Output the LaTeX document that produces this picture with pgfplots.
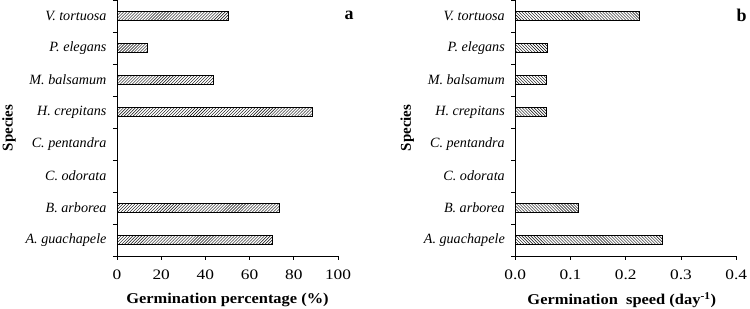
\documentclass[border=0pt]{standalone}
\usepackage{fontspec}
\setmainfont{Liberation Serif}
\newfontfamily\widefont[FakeStretch=1.2]{Liberation Serif}
\newfontfamily\labelfont[FakeStretch=1.1]{Liberation Serif}
\usepackage{pgfplots}
\pgfplotsset{compat=1.18}
\usetikzlibrary{patterns}

\pgfplotsset{
  myaxis/.style={
    scale only axis, width=221bp, height=256bp,
    clip=false,
    xbar, bar width=9bp,
    ymin=-0.5, ymax=7.5,
    ytick={0,...,7},
    yticklabels={\textit{A. guachapele},\textit{B. arborea},\textit{C. odorata},\textit{C. pentandra},\textit{H. crepitans},\textit{M. balsamum},\textit{P. elegans},\textit{V. tortuosa}},
    minor ytick={-0.5,0.5,1.5,2.5,3.5,4.5,5.5,6.5,7.5},
    major y tick style={draw=none},
    tick align=outside,
    major tick length=4bp, minor tick length=4bp,
    axis x line*=bottom, axis y line*=left,
    axis line style={line width=0.8bp},
    every tick/.style={black, line width=0.8bp},
    /pgf/number format/assume math mode=true,
    yticklabel style={font=\fontsize{14.2}{16}\selectfont, xshift=-3bp},
    xticklabel style={font=\widefont\fontsize{14.5}{16}\selectfont, yshift=-6bp},
    xlabel style={at={(axis description cs:0.5,-0.172)}, anchor=center, font=\labelfont\bfseries\fontsize{15}{17}\selectfont},
    ylabel style={at={(axis description cs:-0.489,0.5)}, anchor=center, font=\bfseries\fontsize{15}{17}\selectfont},
    ylabel={Species},
  }
}

\begin{document}
\begin{tikzpicture}
\path[use as bounding box] (0,0) rectangle (750bp,309bp);
\begin{axis}[myaxis, at={(117bp,53bp)}, anchor=south west,
  xmin=0, xmax=100, xtick={0,20,40,60,80,100},
  xlabel={Germination percentage (\%)}]
\addplot[draw=black, line width=0.8bp, pattern=north east lines, pattern color=black]
  coordinates {(70.3,0) (73.4,1) (0,2) (0,3) (88.5,4) (43.6,5) (13.6,6) (50.4,7)};
\node[font=\bfseries\fontsize{18}{18}\selectfont] at (rel axis cs:1.05,0.94) {a};
\end{axis}
\begin{axis}[myaxis, at={(515.3bp,53bp)}, anchor=south west,
  xmin=0, xmax=0.4, xtick={0,0.1,0.2,0.3,0.4},
  scaled x ticks=false,
  xticklabel style={/pgf/number format/.cd, fixed, fixed zerofill, precision=1},
  xlabel style={xshift=-4bp},
  xlabel={Germination\ \ speed (day\textsuperscript{-1})}]
\addplot[draw=black, line width=0.8bp, pattern=north west lines, pattern color=black]
  coordinates {(0.267,0) (0.115,1) (0,2) (0,3) (0.057,4) (0.056,5) (0.058,6) (0.225,7)};
\node[font=\bfseries\fontsize{18}{18}\selectfont] at (rel axis cs:1.024,0.94) {b};
\end{axis}
\end{tikzpicture}
\end{document}
